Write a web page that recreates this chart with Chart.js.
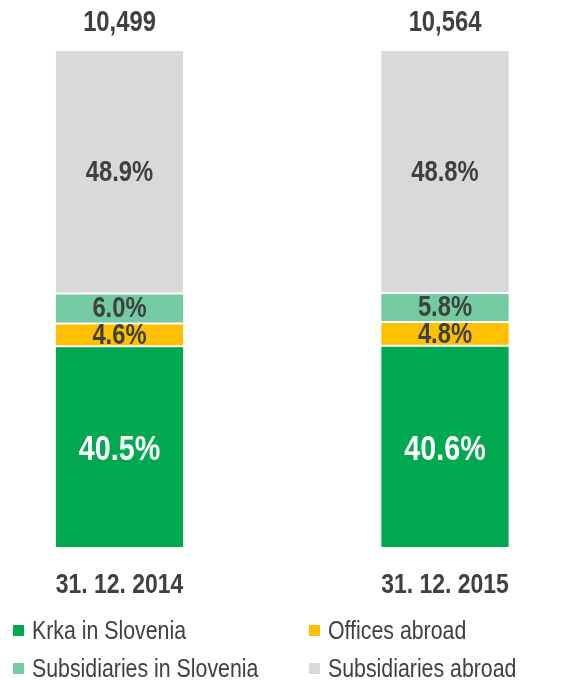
<!DOCTYPE html>
<html>
<head>
<meta charset="utf-8">
<script src="https://cdn.jsdelivr.net/npm/chart.js@4"></script>
<style>
  body { margin: 0; background: #fff; overflow: hidden; }
  #wrap { position: relative; width: 573px; height: 680px; }
  #legend { position: absolute; left: 0; top: 618px; width: 573px; font-family: "Liberation Sans", Arial, sans-serif; font-size: 26px; color: #404040; }
  .item { position: absolute; height: 28px; line-height: 28px; white-space: nowrap; }
  .item span.box { position: absolute; left: 0; top: 7px; width: 11px; height: 11px; }
  .item span.txt { position: absolute; left: 19px; top: -2px; transform: scaleX(0.82); transform-origin: left center; }
</style>
</head>
<body>
<div id="wrap">
  <canvas id="chart" width="573" height="620"></canvas>
  <div id="legend"></div>
</div>
<script>
// Datos: estructura de empleados (%)
const categories = ['31. 12. 2014', '31. 12. 2015'];
const krkaSlovenia = [40.5, 40.6];
const officesAbroad = [4.6, 4.8];
const subsidiariesSlovenia = [6.0, 5.8];
const subsidiariesAbroad = [48.9, 48.8];
const totals = [10499, 10564];

const seriesNames = ['Krka in Slovenia', 'Offices abroad', 'Subsidiaries in Slovenia', 'Subsidiaries abroad'];
const seriesColors = ['#00A94F', '#FFC000', '#74CBA2', '#D9D9D9'];

const FONT = '"Liberation Sans", Arial, sans-serif';

// texto "estrecho" (simula Arial Narrow)
function narrowText(ctx, text, x, y, size) {
  ctx.save();
  ctx.translate(x, y);
  ctx.scale(0.82, 1);
  ctx.font = 'bold ' + size + 'px ' + FONT;
  ctx.fillText(text, 0, 0);
  ctx.restore();
}

// Etiquetas: segmentos, totales encima y fechas debajo
const segmentLabels = {
  id: 'segmentLabels',
  afterDatasetsDraw(chart) {
    const ctx = chart.ctx;
    const xScale = chart.scales.x;
    ctx.save();
    ctx.textAlign = 'center';
    ctx.textBaseline = 'middle';
    chart.data.datasets.forEach((ds, i) => {
      const meta = chart.getDatasetMeta(i);
      meta.data.forEach((bar, j) => {
        const big = i === 0;
        ctx.fillStyle = big ? '#ffffff' : '#404040';
        narrowText(ctx, ds.data[j].toFixed(1) + '%', bar.x, (bar.y + bar.base) / 2 + (big ? 3 : 1), big ? 35 : 29);
      });
    });
    const top = chart.scales.y.getPixelForValue(100);
    ctx.fillStyle = '#404040';
    totals.forEach((t, j) => {
      narrowText(ctx, t.toLocaleString('en-US'), xScale.getPixelForValue(j), top - 27, 29);
    });
    chart.data.labels.forEach((lbl, j) => {
      narrowText(ctx, lbl, xScale.getPixelForTick(j), chart.chartArea.bottom + 37, 28);
    });
    ctx.restore();
  }
};

const seriesData = [krkaSlovenia, officesAbroad, subsidiariesSlovenia, subsidiariesAbroad];

new Chart(document.getElementById('chart').getContext('2d'), {
  type: 'bar',
  data: {
    labels: categories,
    datasets: seriesNames.map((name, i) => ({
      label: name,
      data: seriesData[i],
      backgroundColor: seriesColors[i],
      borderColor: '#ffffff',
      borderWidth: { top: 1, bottom: 1, left: 0, right: 0 },
      borderSkipped: false,
      clip: false
    }))
  },
  options: {
    responsive: false,
    animation: false,
    layout: { padding: { top: 50, left: 119.5, right: 128, bottom: 72 } },
    datasets: { bar: { categoryPercentage: 1, barPercentage: 0.392 } },
    scales: {
      x: {
        stacked: true,
        offset: false,
        grid: { display: false, drawTicks: false },
        border: { display: false },
        ticks: { display: false }
      },
      y: {
        stacked: true,
        display: false,
        min: 0,
        max: 100
      }
    },
    plugins: {
      legend: { display: false },
      tooltip: { enabled: false }
    }
  },
  plugins: [segmentLabels]
});

// Leyenda en dos columnas
const legend = document.getElementById('legend');
const cols = [13, 309];
seriesNames.forEach((name, i) => {
  const item = document.createElement('div');
  item.className = 'item';
  item.style.left = cols[i % 2] + 'px';
  item.style.top = (Math.floor(i / 2) * 38) + 'px';
  item.innerHTML = '<span class="box" style="background:' + seriesColors[i] + '"></span><span class="txt">' + name + '</span>';
  legend.appendChild(item);
});
</script>
</body>
</html>
